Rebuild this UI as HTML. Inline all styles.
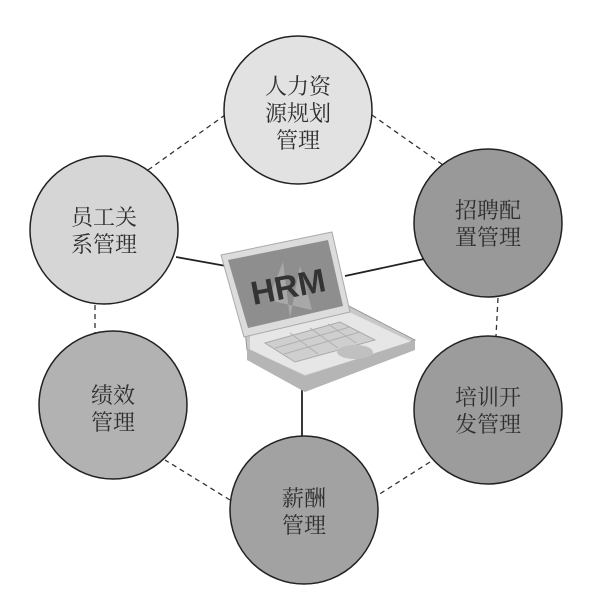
<!DOCTYPE html>
<html><head><meta charset="utf-8"><style>
html,body{margin:0;padding:0;background:#fff;}
svg{display:block}
text{font-family:"Liberation Sans","Noto Sans CJK SC",sans-serif;}
.c{font-family:"Noto Serif CJK SC","Noto Sans CJK SC",serif;font-size:22px;fill:#2e2e2e;text-anchor:middle}
</style></head><body>
<svg width="600" height="589" viewBox="0 0 600 589">
<g stroke="#333" stroke-width="1.3" stroke-dasharray="5,4" fill="none">
<line x1="148" y1="170" x2="225" y2="115"/>
<line x1="372" y1="115" x2="443" y2="165"/>
<line x1="498" y1="298" x2="496" y2="336"/>
<line x1="430" y1="462" x2="378" y2="495"/>
<line x1="230" y1="500" x2="165" y2="460"/>
<line x1="95" y1="305" x2="95" y2="335"/>
</g>
<g stroke="#222" stroke-width="1.8">
<line x1="176" y1="257" x2="226" y2="266"/>
<line x1="345" y1="276" x2="424" y2="259"/>
<line x1="302" y1="388" x2="302" y2="438"/>
</g>
<g stroke="#222" stroke-width="1.5">
<circle cx="298" cy="110" r="74" fill="#e2e2e2"/>
<circle cx="488" cy="223" r="74" fill="#999"/>
<circle cx="488" cy="410" r="74" fill="#9c9c9c"/>
<circle cx="304" cy="510" r="74" fill="#a2a2a2"/>
<circle cx="113" cy="405" r="74" fill="#b2b2b2"/>
<circle cx="104" cy="230" r="74" fill="#d6d6d6"/>
</g>
<text class="c" x="298" y="94">人力资</text>
<text class="c" x="298" y="121">源规划</text>
<text class="c" x="298" y="148">管理</text>
<text class="c" x="488" y="218">招聘配</text>
<text class="c" x="488" y="245">置管理</text>
<text class="c" x="488" y="405">培训开</text>
<text class="c" x="488" y="432">发管理</text>
<text class="c" x="304" y="506">薪酬</text>
<text class="c" x="304" y="533">管理</text>
<text class="c" x="113" y="403">绩效</text>
<text class="c" x="113" y="430">管理</text>
<text class="c" x="104" y="225">员工关</text>
<text class="c" x="104" y="252">系管理</text>
<!-- laptop -->
<polygon points="245,330 347,305 415,340 305,380 247,350" fill="#c8c8c8" stroke="#999"/>
<polygon points="250,335 345,310 412,342 305,375 250,350" fill="#e6e6e6"/>
<polygon points="247,348 305,376 415,340 415,350 305,392 247,360" fill="#b5b5b5"/>
<polygon points="265,343 340,322 375,340 295,362" fill="#cfcfcf" stroke="#aaa"/>
<g stroke="#b0b0b0" stroke-width="1">
<line x1="275" y1="348" x2="350" y2="327"/>
<line x1="284" y1="354" x2="360" y2="332"/>
<line x1="290" y1="333" x2="318" y2="354"/>
<line x1="310" y1="328" x2="338" y2="348"/>
<line x1="328" y1="324" x2="356" y2="343"/>
</g>
<ellipse cx="355" cy="352" rx="18" ry="7" fill="#c0c0c0"/>
<polygon points="221,255 332,232 350,312 244,337" fill="#dcdcdc" stroke="#aaa"/>
<polygon points="228,260 328,240 343,306 248,328" fill="#8e8e8e"/>
<polygon points="268,300 283,262 290,318 300,266 312,310" fill="#a8a8a8"/>
<text x="288" y="298" font-size="33" font-weight="bold" fill="#333" text-anchor="middle" transform="rotate(-11 288 286)">HRM</text>
</svg>
</body></html>
